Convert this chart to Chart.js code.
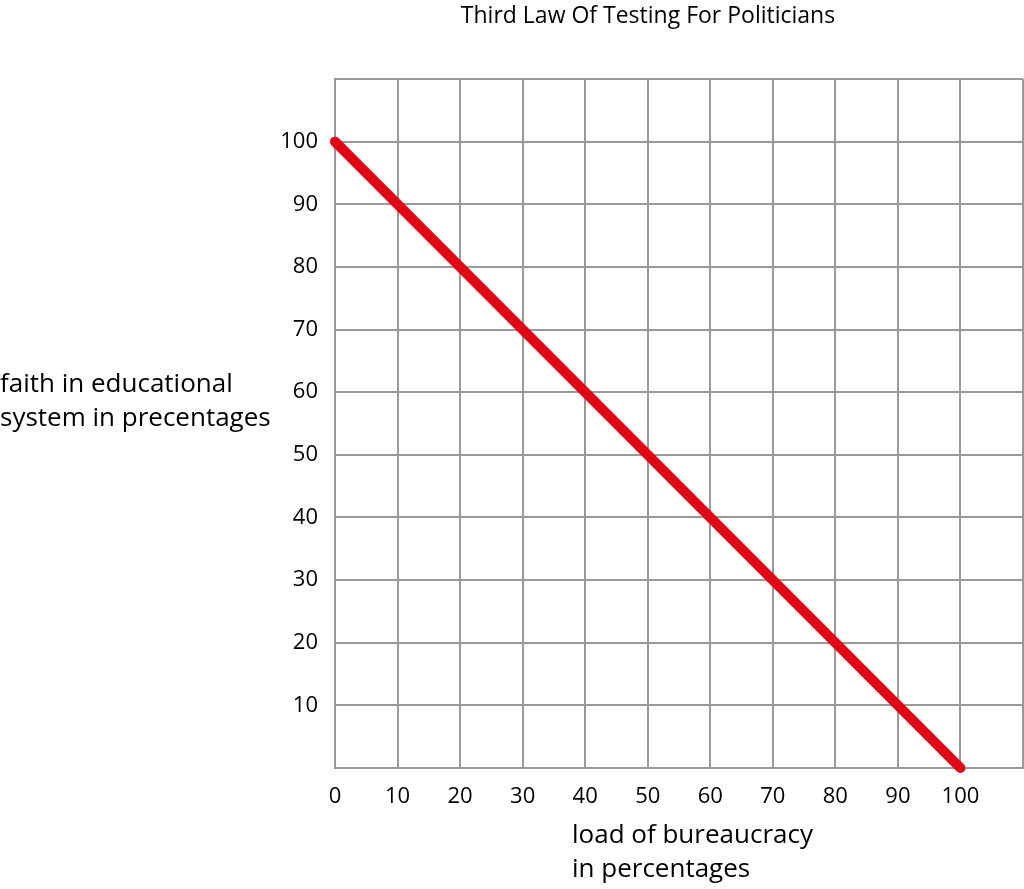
<!DOCTYPE html>
<html>
<head>
<meta charset="utf-8">
<script src="https://cdn.jsdelivr.net/npm/chart.js@4.4.1/dist/chart.umd.min.js"></script>
<style>
  html, body { margin: 0; padding: 0; background: #fff; }
  #wrap { width: 1024px; height: 889px; }
</style>
</head>
<body>
<div id="wrap"><canvas id="chart"></canvas></div>
<script>
const bureaucracy = [0, 100];
const faith = [100, 0];
const xTicks = [0, 10, 20, 30, 40, 50, 60, 70, 80, 90, 100];
const yTicks = [10, 20, 30, 40, 50, 60, 70, 80, 90, 100];

const titleText = "Third Law Of Testing For Politicians";
const yTitle = ["faith in educational", "system in precentages"];
const xTitle = ["load of bureaucracy", "in percentages"];

const fontFamily = "'Open Sans', 'Noto Sans', sans-serif";
const gridColor = "#999999";

// draws the free-standing title texts
const labelsPlugin = {
  id: "labels",
  afterDraw(chart) {
    const ctx = chart.ctx;
    ctx.save();
    ctx.fillStyle = "#000";
    ctx.textBaseline = "alphabetic";

    ctx.font = "23px " + fontFamily;
    ctx.textAlign = "center";
    ctx.fillText(titleText, 648, 23);

    ctx.font = "26px " + fontFamily;
    ctx.textAlign = "left";
    ctx.fillText(yTitle[0], 0, 392);
    ctx.fillText(yTitle[1], 0, 426);
    ctx.fillText(xTitle[0], 572, 843);
    ctx.fillText(xTitle[1], 572, 877);
    ctx.restore();
  }
};

const noPad = s => {
  s.paddingLeft = 0; s.paddingRight = 0; s.paddingTop = 0; s.paddingBottom = 0;
};

new Chart(document.getElementById("chart"), {
  type: "line",
  data: {
    datasets: [{
      data: bureaucracy.map((x, i) => ({ x: x, y: faith[i] })),
      borderColor: "#e30613",
      borderWidth: 10,
      borderCapStyle: "round",
      pointRadius: 0,
      clip: false,
      fill: false
    }]
  },
  options: {
    responsive: true,
    maintainAspectRatio: false,
    animation: false,
    layout: { padding: { top: 79, right: 1, left: 0, bottom: 0 } },
    plugins: { legend: { display: false }, tooltip: { enabled: false } },
    scales: {
      x: {
        type: "linear",
        min: 0,
        max: 110,
        afterBuildTicks: s => { s.ticks = xTicks.map(v => ({ value: v })).concat([{ value: 110 }]); },
        afterFit: s => { s.height = 121; noPad(s); },
        grid: { color: gridColor, lineWidth: 2, drawTicks: false },
        border: { color: gridColor, width: 2 },
        ticks: {
          color: "#000",
          padding: 16,
          font: { family: fontFamily, size: 22 },
          callback: v => (xTicks.includes(v) ? v : "")
        }
      },
      y: {
        type: "linear",
        min: 0,
        max: 110,
        afterBuildTicks: s => { s.ticks = [{ value: 0 }].concat(yTicks.map(v => ({ value: v }))).concat([{ value: 110 }]); },
        afterFit: s => { s.width = 335; noPad(s); },
        grid: { color: gridColor, lineWidth: 2, drawTicks: false },
        border: { color: gridColor, width: 2 },
        ticks: {
          color: "#000",
          padding: 17,
          font: { family: fontFamily, size: 22 },
          callback: v => (yTicks.includes(v) ? v : "")
        }
      }
    }
  },
  plugins: [labelsPlugin]
});
</script>
</body>
</html>
